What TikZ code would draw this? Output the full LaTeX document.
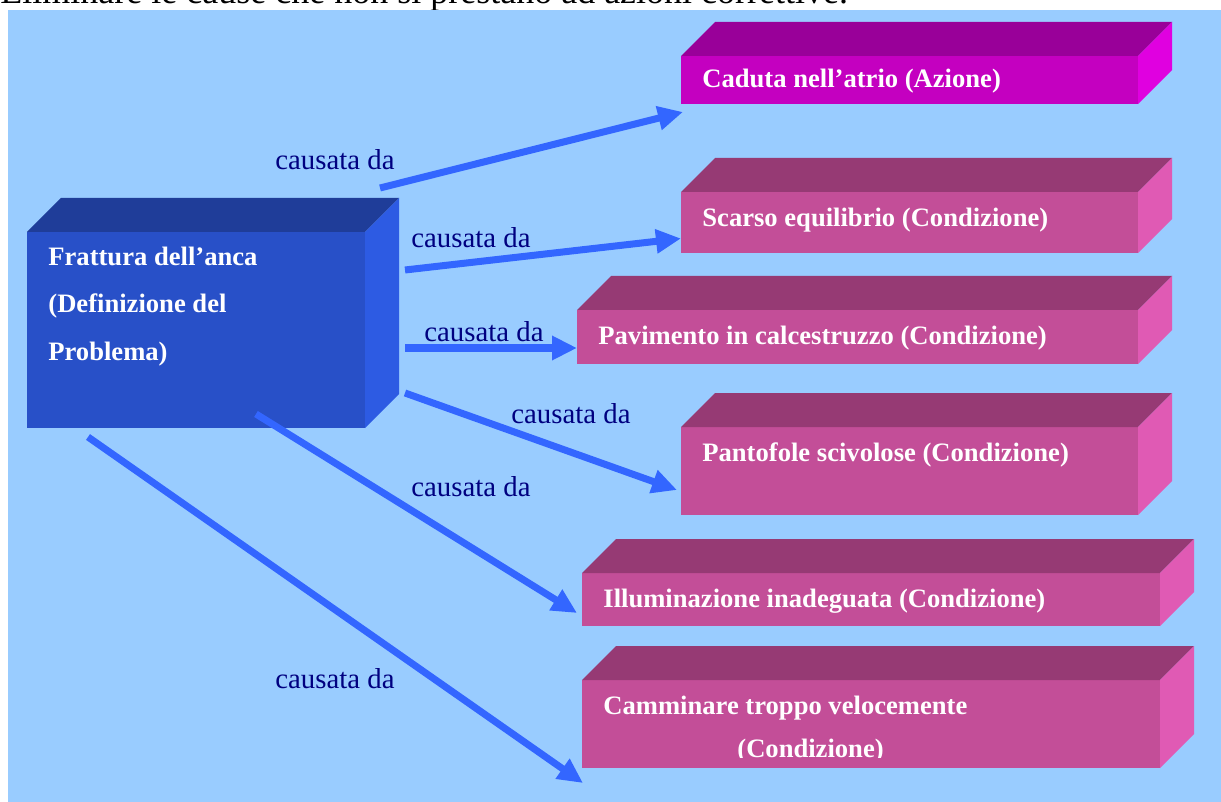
\documentclass[tikz,border=0pt]{standalone}
\usepackage{fontspec}
\setmainfont{Liberation Serif}
\usetikzlibrary{arrows.meta}

\definecolor{sky}{HTML}{99CCFF}
\definecolor{frontprob}{HTML}{2850C8}
\definecolor{topprob}{HTML}{1F3D99}
\definecolor{sideprob}{HTML}{2D5BE3}
\definecolor{frontact}{HTML}{C400C0}
\definecolor{topact}{HTML}{990099}
\definecolor{sideact}{HTML}{E000E0}
\definecolor{frontcond}{HTML}{C34E98}
\definecolor{topcond}{HTML}{963A74}
\definecolor{sidecond}{HTML}{E05AB4}
\definecolor{arrowblue}{HTML}{3366FF}
\definecolor{navy}{HTML}{000080}

\tikzset{
  face/.style={anchor=north west, inner sep=0pt, outer sep=0pt},
  boxtext/.style={anchor=base west, inner sep=0pt, text=white,
    font=\fontsize{13.3}{23.3}\selectfont\bfseries},
  causa/.style={anchor=base west, inner sep=0pt, text=navy,
    font=\fontsize{14.4}{16}\selectfont},
  causearrow/.style={draw=arrowblue, line width=3.5pt,
    -{Triangle[length=12.5pt,width=11.5pt]}},
}

\begin{document}
\begin{tikzpicture}[x=0.5pt, y=-0.5pt]
    \useasboundingbox (0,0) rectangle (1221,802);
    \fill[white] (0,0) rectangle (1221,802);
    \node[anchor=base west, inner sep=0pt, font=\fontsize{18}{20}\selectfont] (titolo) at (0,4)
        {Eliminare le cause che non si prestano ad azioni correttive.};
    \fill[sky] (8,10) rectangle (1221,802);

    % front faces
    \node[face, fill=frontprob, minimum width=169pt, minimum height=98pt] (frattura) at (27,232) {};
    \node[face, fill=frontact, minimum width=228.5pt, minimum height=24pt] (caduta) at (681,56) {};
    \node[face, fill=frontcond, minimum width=228.5pt, minimum height=30.5pt] (scarso) at (681,192) {};
    \node[face, fill=frontcond, minimum width=280.5pt, minimum height=27pt] (pavimento) at (577,310) {};
    \node[face, fill=frontcond, minimum width=228.5pt, minimum height=44pt] (pantofole) at (681,427) {};
    \node[face, fill=frontcond, minimum width=289pt, minimum height=26.5pt] (illuminazione) at (582,573) {};
    \node[face, fill=frontcond, minimum width=289pt, minimum height=44pt] (camminare) at (582,680) {};

    % top and side faces
    \foreach \n/\c in {frattura/prob, caduta/act, scarso/cond, pavimento/cond,
                       pantofole/cond, illuminazione/cond, camminare/cond} {
        \fill[top\c] (\n.north west) -- ++(34,-34) -- ([shift={(34,-34)}]\n.north east)
            -- (\n.north east) -- cycle;
        \fill[side\c] (\n.north east) -- ++(34,-34) -- ([shift={(34,-34)}]\n.south east)
            -- (\n.south east) -- cycle;
    }

    % box texts
    \node[boxtext, align=left] (frattura-t) at (48,360)
        {Frattura dell’anca\\[0.3pt](Definizione del\\[0.3pt]Problema)};
    \node[boxtext] (caduta-t) at (702,88) {Caduta nell’atrio (Azione)};
    \node[boxtext] (scarso-t) at (702,227) {Scarso equilibrio (Condizione)};
    \node[boxtext] (pavimento-t) at (598,344) {Pavimento in calcestruzzo (Condizione)};
    \node[boxtext] (pantofole-t) at (702,461) {Pantofole scivolose (Condizione)};
    \node[boxtext] (illuminazione-t) at (603,607) {Illuminazione inadeguata (Condizione)};
    \node[boxtext] (camminare-t) at (603,714) {Camminare troppo velocemente};
    \begin{scope}
        \clip (582,680) rectangle (1160,757);
        \node[boxtext] (condizione-t) at (737,757) {(Condizione)};
    \end{scope}

    % arrows
    \coordinate (s1) at (380,188);
    \coordinate (s2) at (405,270);
    \coordinate (s3) at (405,348);
    \coordinate (s4) at (405,393);
    \coordinate (s5) at (256,414);
    \coordinate (s6) at (88,437);
    \draw[causearrow] (s1) -- ([shift={(2,8)}]caduta.south west);
    \draw[causearrow] (s2) -- ([shift={(0,16)}]scarso.west);
    \draw[causearrow] (s3) -- ([shift={(0,11)}]pavimento.west);
    \draw[causearrow] (s4) -- ([shift={(-4,19)}]pantofole.west);
    \draw[causearrow] (s5) -- ([shift={(-5,-13)}]illuminazione.south west);
    \draw[causearrow] (s6) -- ([shift={(1,15)}]camminare.south west);

    % labels
    \node[causa] (c1) at (275,170) {causata da};
    \node[causa] (c2) at (411,248) {causata da};
    \node[causa] (c3) at (424,342) {causata da};
    \node[causa] (c4) at (511,423) {causata da};
    \node[causa] (c5) at (411,496) {causata da};
    \node[causa] (c6) at (275,688) {causata da};
\end{tikzpicture}
\end{document}
